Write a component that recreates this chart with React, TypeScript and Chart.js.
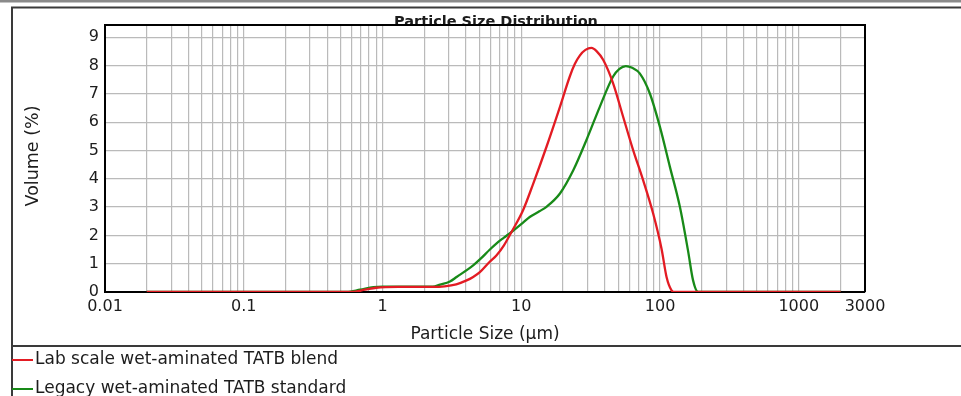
import React, { useEffect, useRef } from 'react';
import { Chart, registerables } from 'chart.js';

Chart.register(...registerables);

// ---------- text ----------
const TITLE = 'Particle Size Distribution';
const X_TITLE = 'Particle Size (µm)';
const Y_TITLE = 'Volume (%)';
const SERIES_LABELS = ['Lab scale wet-aminated TATB blend', 'Legacy wet-aminated TATB standard'];
const SERIES_COLORS = ['#e31b23', '#188a18'];

// ---------- axes ----------
const X_MIN = 0.01;
const X_MAX = 3000;
const X_TICK_LABELS = [0.01, 0.1, 1, 10, 100, 1000, 3000];
const X_GRID_DECADES = [0.01, 0.1, 1, 10, 100, 1000];
const X_GRID_MULTIPLIERS = [1, 2, 3, 4, 5, 6, 7, 8, 9];
const X_GRID_LAST = 2000;
const Y_MIN = 0;
const Y_MAX = 9.43;
const Y_TICKS = [0, 1, 2, 3, 4, 5, 6, 7, 8, 9];

// ---------- data ----------
const labSizes = [
  0.02, 0.6, 0.75, 0.9, 1.3, 2.3, 2.8, 3.4, 4.0, 4.5, 5.03, 5.9, 6.64, 7.5, 8.5,
  10.3, 12.2, 15.2, 19.0, 22.4, 24.3, 26.4, 29.0, 32.0, 35.0, 38.9, 45.9, 54.2,
  64.0, 75.5, 89.2, 102.6, 111.4, 121, 128, 2000,
];
const labVolumes = [
  0, 0, 0.08, 0.15, 0.18, 0.18, 0.2, 0.27, 0.4, 0.53, 0.7, 1.06, 1.3, 1.65, 2.12,
  2.89, 3.83, 5.13, 6.54, 7.62, 8.05, 8.35, 8.55, 8.62, 8.5, 8.2, 7.37, 6.19,
  5.01, 3.95, 2.77, 1.52, 0.53, 0.06, 0, 0,
];

const legacySizes = [
  0.02, 0.55, 0.69, 0.86, 1.0, 2.3, 2.6, 3.06, 3.42, 4.5, 5.03, 5.94, 6.64, 7.5, 8.5,
  10.3, 11.5, 13.5, 15.2, 19.0, 23.7, 29.5, 36.8, 45.9, 51.0, 56.7, 63.0, 71.4,
  84.3, 99.7, 117.8, 139, 159, 173, 188, 2000,
];
const legacyVolumes = [
  0, 0, 0.08, 0.17, 0.19, 0.19, 0.26, 0.37, 0.53, 0.94, 1.15, 1.5, 1.72, 1.92, 2.12,
  2.45, 2.65, 2.85, 3.01, 3.48, 4.3, 5.37, 6.54, 7.61, 7.88, 7.98, 7.92, 7.72,
  7.02, 5.84, 4.42, 3.01, 1.47, 0.41, 0, 0,
];

const FONT = 'DejaVu Sans';
const TEXT_COLOR = '#1c1c1c';
const GRID_COLOR = '#bababa';

const xGridValues: number[] = [];
X_GRID_DECADES.forEach((d) => {
  X_GRID_MULTIPLIERS.forEach((m) => {
    const v = +(d * m).toPrecision(6);
    if (v <= X_GRID_LAST) xGridValues.push(v);
  });
});
const X_TICKS = [...xGridValues, X_MAX];

const framePlugin = {
  id: 'framePlugin',
  beforeDraw(chart: any) {
    const { ctx, width, height } = chart;
    ctx.save();
    ctx.fillStyle = '#ffffff';
    ctx.fillRect(0, 0, width, height);
    // outer gray top line
    ctx.fillStyle = '#8a8a8a';
    ctx.fillRect(0, 0, width, 2.5);
    // inner frame
    ctx.strokeStyle = '#3a3a3a';
    ctx.lineWidth = 2;
    ctx.beginPath();
    ctx.moveTo(12, 396);
    ctx.lineTo(12, 7.5);
    ctx.lineTo(width, 7.5);
    ctx.stroke();
    // title clipped by plot top
    const area = chart.chartArea;
    ctx.beginPath();
    ctx.rect(0, 0, width, area.top);
    ctx.clip();
    ctx.fillStyle = TEXT_COLOR;
    ctx.font = `bold 14.5px "${FONT}"`;
    ctx.textAlign = 'center';
    ctx.textBaseline = 'alphabetic';
    ctx.fillText(TITLE, 496, 26);
    ctx.restore();
  },
  afterDraw(chart: any) {
    const { ctx, width } = chart;
    const area = chart.chartArea;
    ctx.save();
    // plot top/right border
    ctx.strokeStyle = '#000000';
    ctx.lineWidth = 2;
    ctx.beginPath();
    ctx.moveTo(area.left, area.top);
    ctx.lineTo(area.right, area.top);
    ctx.lineTo(area.right, area.bottom);
    ctx.stroke();

    // axis titles
    ctx.fillStyle = TEXT_COLOR;
    ctx.font = `17px "${FONT}"`;
    ctx.textAlign = 'center';
    ctx.textBaseline = 'middle';
    ctx.fillText(X_TITLE, 485, 335);
    ctx.save();
    ctx.translate(33, 156);
    ctx.rotate(-Math.PI / 2);
    ctx.font = `17.5px "${FONT}"`;
    ctx.fillText(Y_TITLE, 0, 0);
    ctx.restore();

    // legend separator
    ctx.strokeStyle = '#3a3a3a';
    ctx.lineWidth = 2;
    ctx.beginPath();
    ctx.moveTo(12, 346);
    ctx.lineTo(width, 346);
    ctx.stroke();

    // legend
    const rows = [360, 389];
    chart.data.datasets.forEach((ds: any, i: number) => {
      const y = rows[i];
      ctx.strokeStyle = ds.borderColor;
      ctx.lineWidth = 2;
      ctx.beginPath();
      ctx.moveTo(12, y);
      ctx.lineTo(33, y);
      ctx.stroke();
      ctx.fillStyle = TEXT_COLOR;
      ctx.font = `17px "${FONT}"`;
      ctx.textAlign = 'left';
      ctx.textBaseline = 'middle';
      ctx.fillText(ds.label, 35, y);
    });
    ctx.restore();
  },
};

export default function App() {
  const canvasRef = useRef<HTMLCanvasElement | null>(null);

  useEffect(() => {
    document.body.style.margin = '0';
    const canvas = canvasRef.current;
    if (!canvas) return;
    Chart.defaults.font.family = FONT;

    const chart = new Chart(canvas, {
      type: 'line',
      data: {
        datasets: [
          {
            label: SERIES_LABELS[0],
            data: labSizes.map((x, i) => ({ x, y: labVolumes[i] })),
            borderColor: SERIES_COLORS[0],
            backgroundColor: SERIES_COLORS[0],
            borderWidth: 2.3,
            pointRadius: 0,
            cubicInterpolationMode: 'monotone',
            fill: false,
          },
          {
            label: SERIES_LABELS[1],
            data: legacySizes.map((x, i) => ({ x, y: legacyVolumes[i] })),
            borderColor: SERIES_COLORS[1],
            backgroundColor: SERIES_COLORS[1],
            borderWidth: 2.3,
            pointRadius: 0,
            cubicInterpolationMode: 'monotone',
            fill: false,
          },
        ],
      },
      options: {
        responsive: false,
        animation: false,
        events: [],
        layout: { padding: { top: 25, right: 96, left: 0, bottom: 0 } },
        plugins: {
          legend: { display: false },
          title: { display: false },
          tooltip: { enabled: false },
        },
        scales: {
          x: {
            type: 'logarithmic',
            min: X_MIN,
            max: X_MAX,
            afterBuildTicks: (scale: any) => {
              scale.ticks = X_TICKS.map((v) => ({ value: v }));
            },
            afterFit: (scale: any) => {
              scale.height = 104;
            },
            grid: {
              drawTicks: false,
              lineWidth: 1.2,
              color: (ctx: any) =>
                ctx.tick && (ctx.tick.value === X_MIN || ctx.tick.value === X_MAX)
                  ? 'rgba(0,0,0,0)'
                  : GRID_COLOR,
            },
            border: { color: '#000000', width: 2 },
            ticks: {
              autoSkip: false,
              maxRotation: 0,
              minRotation: 0,
              padding: 5,
              color: TEXT_COLOR,
              font: { family: FONT, size: 16 },
              callback: (value: any) => {
                const v = Number(value);
                return X_TICK_LABELS.some((t) => Math.abs(t - v) / t < 1e-6) ? String(v) : '';
              },
            },
          },
          y: {
            type: 'linear',
            min: Y_MIN,
            max: Y_MAX,
            afterBuildTicks: (scale: any) => {
              scale.ticks = Y_TICKS.map((v) => ({ value: v }));
            },
            afterFit: (scale: any) => {
              scale.width = 105;
            },
            grid: {
              drawTicks: false,
              lineWidth: 1.2,
              color: (ctx: any) =>
                ctx.tick && ctx.tick.value === 0 ? 'rgba(0,0,0,0)' : GRID_COLOR,
            },
            border: { color: '#000000', width: 2 },
            ticks: {
              padding: 6,
              color: TEXT_COLOR,
              font: { family: FONT, size: 16 },
              callback: (value: any) => String(value),
            },
          },
        },
      } as any,
      plugins: [framePlugin],
    });

    return () => {
      chart.destroy();
    };
  }, []);

  return (
    <div style={{ position: 'absolute', left: 0, top: 0, width: 961, height: 396 }}>
      <canvas ref={canvasRef} width={961} height={396} style={{ display: 'block', width: 961, height: 396 }} />
    </div>
  );
}
